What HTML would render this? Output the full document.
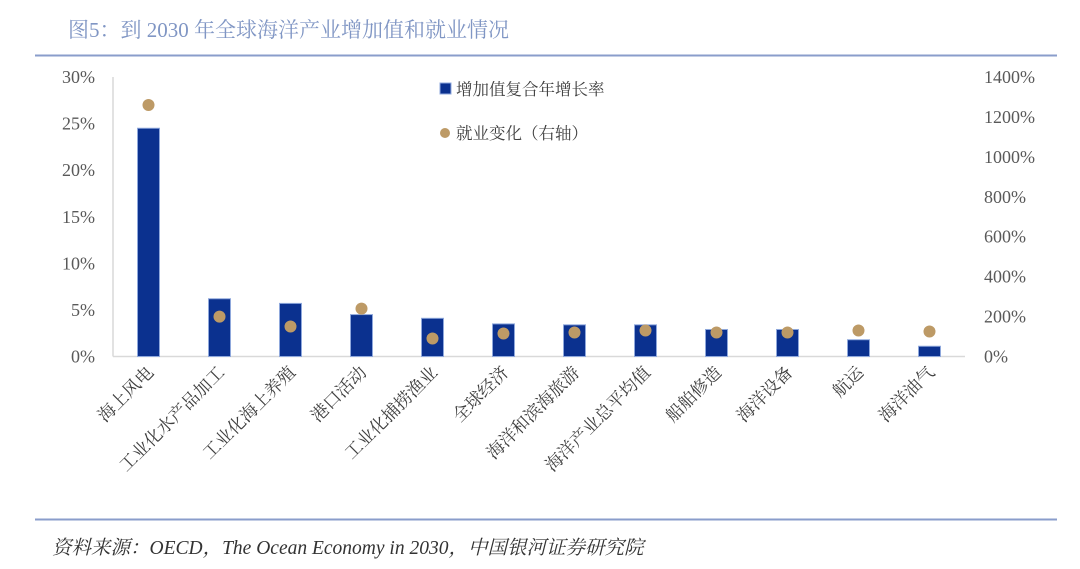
<!DOCTYPE html>
<html><head><meta charset="utf-8"><style>
body{margin:0;width:1080px;height:564px;background:#fff;overflow:hidden;font-family:"Liberation Serif","Noto Serif CJK SC",serif}
svg text{font-family:"Liberation Serif","Noto Serif CJK SC",serif}
</style></head><body>
<svg id="c" width="1080" height="564">
<text x="68" y="37" font-size="21" fill="#8096c4">图5：到 2030 年全球海洋产业增加值和就业情况</text>
<line x1="35" y1="55.5" x2="1057" y2="55.5" stroke="#8a9dcb" stroke-width="2"/>
<line x1="35" y1="519.5" x2="1057" y2="519.5" stroke="#8a9dcb" stroke-width="2"/>
<text x="52" y="554" font-size="19.5" font-style="italic" fill="#333">资料来源：OECD，The Ocean Economy in 2030，中国银河证券研究院</text>
<g id="g"></g>
</svg>
<script>
const categories=["海上风电","工业化水产品加工","工业化海上养殖","港口活动","工业化捕捞渔业","全球经济","海洋和滨海旅游","海洋产业总平均值","船舶修造","海洋设备","航运","海洋油气"];
const gvaGrowth=[24.5,6.2,5.7,4.5,4.1,3.5,3.4,3.4,2.9,2.9,1.8,1.1];
const employment=[1260,200,150,240,90,115,120,130,120,120,130,125];
const leftTicks=[0,5,10,15,20,25,30];
const rightTicks=[0,200,400,600,800,1000,1200,1400];
const NS="http://www.w3.org/2000/svg",g=document.getElementById('g');
const x0=113,x1=965,yb=356.5,yt=77;
const yL=v=>yb-(v/30)*(yb-yt), yR=v=>yb-(v/1400)*(yb-yt);
const step=(x1-x0)/categories.length, xc=i=>x0+step*(i+0.5);
function mk(t,a,txt){const e=document.createElementNS(NS,t);for(const k in a)e.setAttribute(k,a[k]);if(txt!=null)e.textContent=txt;g.appendChild(e);return e;}
let e=mk('line',{x1:x0,y1:yt,x2:x0,y2:yb,stroke:'#d9d9d9','stroke-width':1.5});

e=mk('line',{x1:x0,y1:yb,x2:x1,y2:yb,stroke:'#d9d9d9','stroke-width':1.5});

leftTicks.forEach(v=>{const t=mk('text',{x:95,y:yL(v)+6,'text-anchor':'end','font-size':18,fill:'#595959'},v+'%');
});
rightTicks.forEach(v=>{const t=mk('text',{x:984,y:yR(v)+6,'font-size':18,fill:'#595959'},v+'%');
});
categories.forEach((c,i)=>{
 const b=mk('rect',{x:xc(i)-11,y:yL(gvaGrowth[i]),width:22,height:yb-yL(gvaGrowth[i]),fill:'#0b318f',stroke:'#8fa8dc','stroke-width':1});
 
 const d=mk('circle',{cx:xc(i),cy:yR(employment[i]),r:6,fill:'#bd9a66'});
 
 const t=mk('text',{x:xc(i)+6,y:yb+17,'text-anchor':'end','font-size':17.5,fill:'#404040',transform:`rotate(-45 ${xc(i)+6} ${yb+17})`},c);
 
});
e=mk('rect',{x:440,y:83,width:11,height:11,fill:'#0b318f',stroke:'#8fa8dc'});

e=mk('text',{x:456,y:95,'font-size':16.5,fill:'#404040'},'增加值复合年增长率');

e=mk('circle',{cx:445,cy:133,r:5,fill:'#bd9a66'});

e=mk('text',{x:456,y:139,'font-size':16.5,fill:'#404040'},'就业变化（右轴）');

</script>
</body></html>
